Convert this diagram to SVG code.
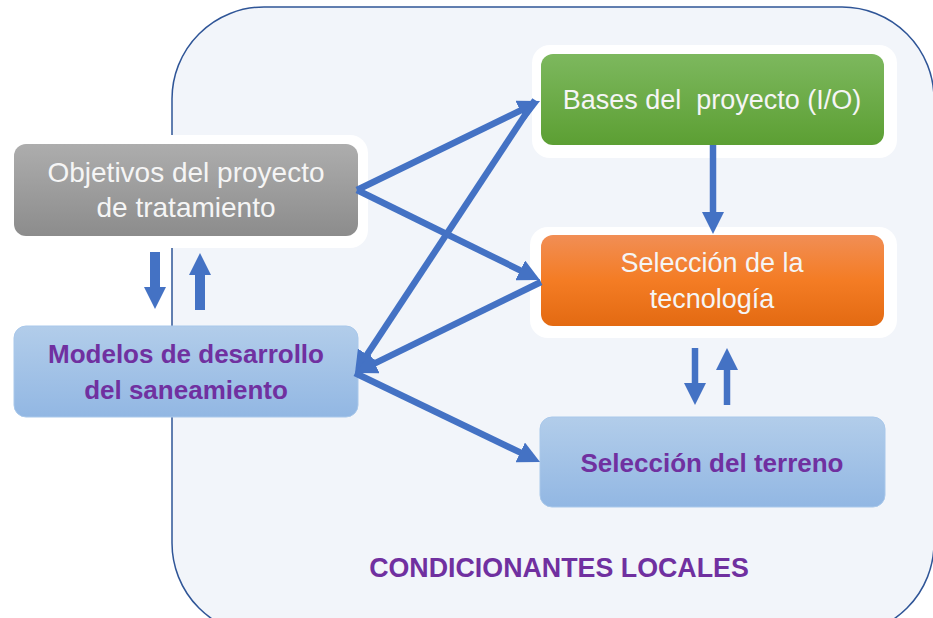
<svg xmlns="http://www.w3.org/2000/svg" width="933" height="618" viewBox="0 0 933 618">
<defs>
<linearGradient id="gGray" x1="0" y1="0" x2="0" y2="1"><stop offset="0" stop-color="#ADADAD"/><stop offset="1" stop-color="#8C8C8C"/></linearGradient>
<linearGradient id="gGreen" x1="0" y1="0" x2="0" y2="1"><stop offset="0" stop-color="#7DB85E"/><stop offset="1" stop-color="#5C9F33"/></linearGradient>
<linearGradient id="gOrange" x1="0" y1="0" x2="0" y2="1"><stop offset="0" stop-color="#F18E55"/><stop offset="0.5" stop-color="#F47C24"/><stop offset="1" stop-color="#E36A12"/></linearGradient>
<linearGradient id="gBlue" x1="0" y1="0" x2="0" y2="1"><stop offset="0" stop-color="#B2CDEA"/><stop offset="1" stop-color="#92B7E3"/></linearGradient>
<marker id="ah" markerUnits="userSpaceOnUse" markerWidth="22" markerHeight="22" viewBox="0 -11 22 22" refX="8" refY="0" orient="auto">
<path d="M0,-11 L22,0 L0,11 z" fill="#4472C4"/>
</marker>
<style>
.halo{fill:#FFFFFF;}
.lbl{font-family:"Liberation Sans",Arial,sans-serif;text-anchor:middle;}
.w{fill:#F5F5F5;font-size:27px;}
.big{font-size:28px;}
.p{fill:#7030A0;font-size:26px;font-weight:bold;}
.cap{font-size:26.8px;}
.con{stroke:#4472C4;fill:none;stroke-width:6.5;marker-end:url(#ah);}
.thick{stroke-width:10;}
</style>
</defs>
<g id="container">
<rect x="172" y="7" width="762" height="628" rx="92" ry="92" fill="#F2F5FA" stroke="#2F5597" stroke-width="1.5"/>
</g>
<g id="objetivos">
<rect class="halo" x="3" y="135" width="365" height="113" rx="18"/>
<rect x="14" y="144" width="344" height="92" rx="12" fill="url(#gGray)"/>
<text class="lbl w big" x="186" y="182">Objetivos del proyecto</text>
<text class="lbl w big" x="186" y="217">de tratamiento</text>
</g>
<g id="modelos">
<rect x="14" y="326" width="344" height="91" rx="12" fill="url(#gBlue)" stroke="#A9C8EA" stroke-width="1"/>
<text class="lbl p" x="186" y="363">Modelos de desarrollo</text>
<text class="lbl p" x="186" y="399">del saneamiento</text>
</g>
<g id="bases">
<rect class="halo" x="532" y="45" width="365" height="113" rx="18"/>
<rect x="541" y="54" width="343" height="91" rx="12" fill="url(#gGreen)"/>
<text class="lbl w" x="712" y="109" xml:space="preserve">Bases del  proyecto (I/O)</text>
</g>
<g id="tecnologia">
<rect class="halo" x="530" y="227" width="367" height="111" rx="18"/>
<rect x="541" y="235" width="343" height="91" rx="12" fill="url(#gOrange)"/>
<text class="lbl w" x="712" y="272">Selección de la</text>
<text class="lbl w" x="712" y="308">tecnología</text>
</g>
<g id="terreno">
<rect x="540" y="417" width="345" height="90" rx="12" fill="url(#gBlue)" stroke="#A9C8EA" stroke-width="1"/>
<text class="lbl p" x="712" y="472">Selección del terreno</text>
</g>
<g id="caption">
<text class="lbl p cap" x="559" y="577">CONDICIONANTES LOCALES</text>
</g>
<g id="connectors">
<line class="con" x1="357" y1="190" x2="527.4" y2="107.1"/>
<line class="con" x1="357" y1="190" x2="527.4" y2="273.8"/>
<line class="con" x1="535" y1="100" x2="362.7" y2="361.3"/>
<line class="con" x1="541" y1="282" x2="367.6" y2="366.8"/>
<line class="con" x1="355" y1="373" x2="527.4" y2="455.9"/>
<line class="con" x1="713" y1="145" x2="713" y2="220"/>
<line class="con" x1="695" y1="348" x2="695" y2="391"/>
<line class="con" x1="727" y1="405" x2="727" y2="362"/>
<line class="con thick" x1="155" y1="252" x2="155" y2="295"/>
<line class="con thick" x1="200" y1="310" x2="200" y2="267"/>
</g>
</svg>
